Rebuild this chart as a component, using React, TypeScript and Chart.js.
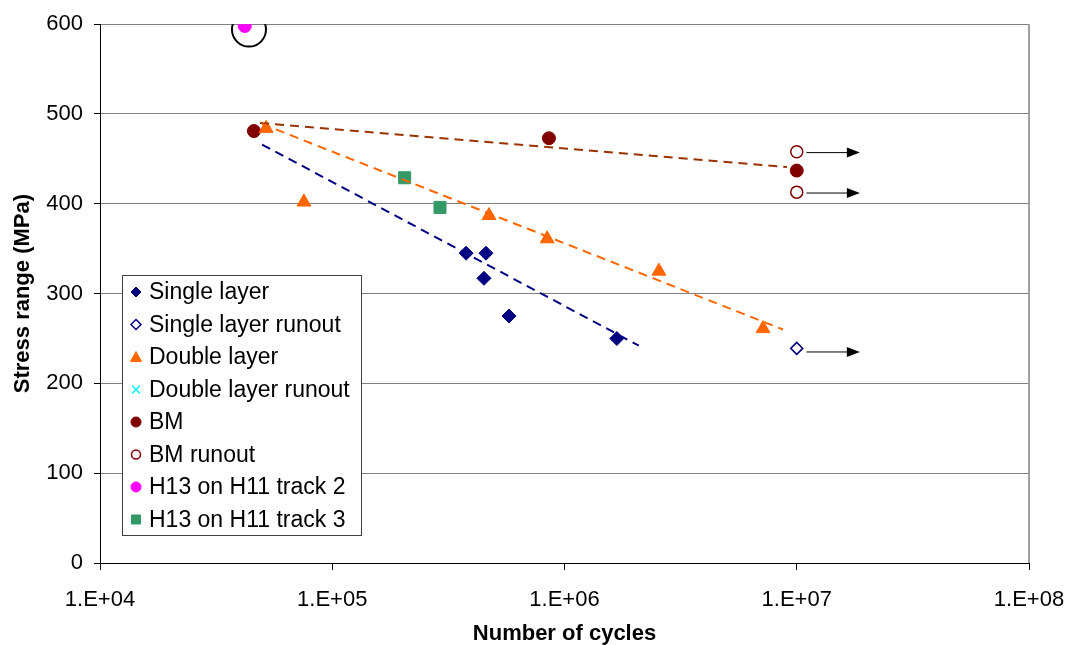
import React, { useEffect, useRef } from 'react';
import { Chart, registerables } from 'chart.js';

Chart.register(...registerables);

// ---- data ----
const xTickValues = [1e4, 1e5, 1e6, 1e7, 1e8];
const yTickValues = [0, 100, 200, 300, 400, 500, 600];

const singleN = [377000, 459000, 450000, 577000, 1680000];
const singleS = [345, 345, 317, 275, 250];
const singleRunoutN = [1.0e7];
const singleRunoutS = [239];
const doubleN = [51900, 75500, 473000, 842000, 2550000, 7160000];
const doubleS = [484, 402, 387, 361, 325, 261];
const doubleRunoutN: number[] = [];
const doubleRunoutS: number[] = [];
const bmN = [46000, 857000, 1.0e7];
const bmS = [481, 473, 437];
const bmRunoutN = [1.0e7, 1.0e7];
const bmRunoutS = [458, 413];
const track2N = [42000];
const track2S = [598];
const track3N = [205000, 291000];
const track3S = [429, 396];

const highlightN = [43800];
const highlightS = [594];

const trendSingleN = [49900, 2090000];
const trendSingleS = [466, 242];
const trendDoubleN = [49800, 8730000];
const trendDoubleS = [489, 260];
const trendBmN = [48900, 9080000];
const trendBmS = [490, 441];

const arrowFromN = [1.1e7, 1.1e7, 1.1e7];
const arrowToN = [1.87e7, 1.87e7, 1.87e7];
const arrowS = [457, 412, 235];

const FONT = "'Liberation Sans', Arial, sans-serif";

const pts = (xs: number[], ys: number[]) => xs.map((x, i) => ({ x, y: ys[i] }));

function drawMarker(ctx: CanvasRenderingContext2D, style: string, x: number, y: number, r: number, fill: string, stroke: string, lw: number) {
  ctx.save();
  ctx.beginPath();
  ctx.lineWidth = lw;
  ctx.fillStyle = fill;
  ctx.strokeStyle = stroke;
  if (style === 'circle') {
    ctx.arc(x, y, r, 0, Math.PI * 2);
    ctx.fill();
    ctx.stroke();
  } else if (style === 'rectRot') {
    ctx.moveTo(x, y - r);
    ctx.lineTo(x + r, y);
    ctx.lineTo(x, y + r);
    ctx.lineTo(x - r, y);
    ctx.closePath();
    ctx.fill();
    ctx.stroke();
  } else if (style === 'triangle') {
    ctx.moveTo(x, y - r);
    ctx.lineTo(x + r, y + r * 0.8);
    ctx.lineTo(x - r, y + r * 0.8);
    ctx.closePath();
    ctx.fill();
    ctx.stroke();
  } else if (style === 'rect') {
    ctx.rect(x - r, y - r, 2 * r, 2 * r);
    ctx.fill();
    ctx.stroke();
  } else if (style === 'crossRot') {
    ctx.moveTo(x - r, y - r);
    ctx.lineTo(x + r, y + r);
    ctx.moveTo(x + r, y - r);
    ctx.lineTo(x - r, y + r);
    ctx.stroke();
  }
  ctx.restore();
}

const overlayPlugin = {
  id: 'overlay',
  afterDatasetsDraw(chart: any) {
    const ctx: CanvasRenderingContext2D = chart.ctx;
    const xs = chart.scales.x;
    const ys = chart.scales.y;
    const area = chart.chartArea;
    // right border of plot area
    ctx.save();
    ctx.strokeStyle = '#a0a0a0';
    ctx.lineWidth = 2;
    ctx.beginPath();
    ctx.moveTo(area.right, area.top);
    ctx.lineTo(area.right, area.bottom);
    ctx.stroke();
    ctx.restore();
    // arrows for runouts
    ctx.save();
    ctx.strokeStyle = '#000';
    ctx.fillStyle = '#000';
    ctx.lineWidth = 1;
    arrowS.forEach((s, i) => {
      const x0 = xs.getPixelForValue(arrowFromN[i]);
      const x1 = xs.getPixelForValue(arrowToN[i]);
      const y = ys.getPixelForValue(s);
      ctx.beginPath();
      ctx.moveTo(x0, y);
      ctx.lineTo(x1 - 12, y);
      ctx.stroke();
      ctx.beginPath();
      ctx.moveTo(x1, y);
      ctx.lineTo(x1 - 13, y - 5);
      ctx.lineTo(x1 - 13, y + 5);
      ctx.closePath();
      ctx.fill();
    });
    ctx.restore();
  },
  afterDraw(chart: any) {
    const ctx: CanvasRenderingContext2D = chart.ctx;
    const items = chart.data.datasets.filter((d: any) => d.legendStyle);
    const left = 122, top = 275, width = 239, rowH = 32.5;
    const height = items.length * rowH;
    ctx.save();
    ctx.fillStyle = '#fff';
    ctx.fillRect(left, top, width, height);
    ctx.strokeStyle = '#404040';
    ctx.lineWidth = 1;
    ctx.strokeRect(left + 0.5, top + 0.5, width, height);
    ctx.font = `23px ${FONT}`;
    ctx.textBaseline = 'middle';
    ctx.textAlign = 'left';
    items.forEach((d: any, i: number) => {
      const cy = top + 17 + i * rowH;
      const st = d.legendStyle;
      drawMarker(ctx, st.shape, left + 14, cy, st.r, st.fill, st.stroke, st.lw);
      ctx.fillStyle = '#000';
      ctx.fillText(d.label, left + 27, cy + 1);
    });
    ctx.restore();
  },
};

export default function App() {
  const ref = useRef<HTMLCanvasElement | null>(null);

  useEffect(() => {
    if (!ref.current) return;
    const chart = new Chart(ref.current, {
      type: 'scatter',
      data: {
        datasets: [
          {
            label: 'highlight',
            data: pts(highlightN, highlightS),
            pointStyle: 'circle',
            pointRadius: 17,
            pointBackgroundColor: 'rgba(0,0,0,0)',
            pointBorderColor: '#000',
            pointBorderWidth: 2,
          },
          {
            label: 'trendSingle',
            data: pts(trendSingleN, trendSingleS),
            showLine: true,
            pointRadius: 0,
            borderColor: '#000080',
            borderWidth: 2,
            borderDash: [9, 6],
          },
          {
            label: 'trendDouble',
            data: pts(trendDoubleN, trendDoubleS),
            showLine: true,
            pointRadius: 0,
            borderColor: '#FF6600',
            borderWidth: 2,
            borderDash: [9, 6],
          },
          {
            label: 'trendBm',
            data: pts(trendBmN, trendBmS),
            showLine: true,
            pointRadius: 0,
            borderColor: '#993300',
            borderWidth: 2,
            borderDash: [9, 6],
          },
          {
            label: 'Single layer',
            data: pts(singleN, singleS),
            pointStyle: 'rectRot',
            pointRadius: 7,
            pointBackgroundColor: '#000080',
            pointBorderColor: '#000080',
            pointBorderWidth: 1,
            legendStyle: { shape: 'rectRot', r: 5, fill: '#000080', stroke: '#000080', lw: 1 },
          },
          {
            label: 'Single layer runout',
            data: pts(singleRunoutN, singleRunoutS),
            pointStyle: 'rectRot',
            pointRadius: 6,
            pointBackgroundColor: '#ffffff',
            pointBorderColor: '#000080',
            pointBorderWidth: 1.5,
            legendStyle: { shape: 'rectRot', r: 5, fill: '#ffffff', stroke: '#000080', lw: 1.5 },
          },
          {
            label: 'Double layer',
            data: pts(doubleN, doubleS),
            pointStyle: 'triangle',
            pointRadius: 8,
            pointBackgroundColor: '#FF6600',
            pointBorderColor: '#FF6600',
            pointBorderWidth: 1,
            legendStyle: { shape: 'triangle', r: 5.5, fill: '#FF6600', stroke: '#FF6600', lw: 1 },
          },
          {
            label: 'Double layer runout',
            data: pts(doubleRunoutN, doubleRunoutS),
            pointStyle: 'crossRot',
            pointRadius: 6,
            pointBorderColor: '#00FFFF',
            legendStyle: { shape: 'crossRot', r: 4, fill: '#00FFFF', stroke: '#00FFFF', lw: 1.5 },
          },
          {
            label: 'BM',
            data: pts(bmN, bmS),
            pointStyle: 'circle',
            pointRadius: 6.5,
            pointBackgroundColor: '#800000',
            pointBorderColor: '#800000',
            pointBorderWidth: 1,
            legendStyle: { shape: 'circle', r: 5, fill: '#800000', stroke: '#800000', lw: 1 },
          },
          {
            label: 'BM runout',
            data: pts(bmRunoutN, bmRunoutS),
            pointStyle: 'circle',
            pointRadius: 6,
            pointBackgroundColor: '#ffffff',
            pointBorderColor: '#800000',
            pointBorderWidth: 1.5,
            legendStyle: { shape: 'circle', r: 4.5, fill: '#ffffff', stroke: '#800000', lw: 1.5 },
          },
          {
            label: 'H13 on H11 track 2',
            data: pts(track2N, track2S),
            pointStyle: 'circle',
            pointRadius: 6.5,
            pointBackgroundColor: '#FF00FF',
            pointBorderColor: '#FF00FF',
            pointBorderWidth: 1,
            legendStyle: { shape: 'circle', r: 5, fill: '#FF00FF', stroke: '#FF00FF', lw: 1 },
          },
          {
            label: 'H13 on H11 track 3',
            data: pts(track3N, track3S),
            pointStyle: 'rect',
            pointRadius: 8.5,
            pointBackgroundColor: '#339966',
            pointBorderColor: '#339966',
            pointBorderWidth: 1,
            legendStyle: { shape: 'rect', r: 4.5, fill: '#339966', stroke: '#339966', lw: 1 },
          },
        ] as any,
      },
      options: {
        animation: false,
        responsive: true,
        maintainAspectRatio: false,
        layout: { padding: { left: 0, top: 24, right: 38, bottom: 0 } },
        plugins: {
          legend: { display: false },
          tooltip: { enabled: false },
        },
        scales: {
          x: {
            type: 'logarithmic',
            min: 1e4,
            max: 1e8,
            afterBuildTicks: (scale: any) => {
              scale.ticks = xTickValues.map((v) => ({ value: v }));
            },
            afterFit: (scale: any) => {
              scale.height = 82;
              scale.paddingLeft = 0;
              scale.paddingRight = 0;
            },
            ticks: {
              autoSkip: false,
              maxRotation: 0,
              color: '#000',
              font: { family: FONT, size: 22 },
              padding: 17,
              callback: (v: any) => {
                const e = Math.round(Math.log10(Number(v)));
                return '1.E+' + String(e).padStart(2, '0');
              },
            },
            grid: {
              display: true,
              drawOnChartArea: false,
              drawTicks: true,
              tickLength: 7,
              color: '#000',
              tickColor: '#000',
            },
            border: { display: true, color: '#000', width: 1 },
            title: {
              display: true,
              text: 'Number of cycles',
              color: '#000',
              font: { family: FONT, size: 22, weight: 'bold' },
              padding: { top: 0, bottom: -2 },
            },
          },
          y: {
            type: 'linear',
            min: 0,
            max: 600,
            afterBuildTicks: (scale: any) => {
              scale.ticks = yTickValues.map((v) => ({ value: v }));
            },
            afterFit: (scale: any) => {
              scale.width = 100;
            },
            ticks: {
              color: '#000',
              font: { family: FONT, size: 22 },
              padding: 11,
            },
            grid: {
              color: '#808080',
              lineWidth: 1,
              tickLength: 6,
              tickColor: '#000',
            },
            border: { display: true, color: '#000', width: 1 },
            title: {
              display: true,
              text: 'Stress range (MPa)',
              color: '#000',
              font: { family: FONT, size: 22, weight: 'bold' },
              padding: { top: 10, bottom: 0 },
            },
          },
        },
      } as any,
      plugins: [overlayPlugin],
    });
    return () => chart.destroy();
  }, []);

  return (
    <div style={{ position: 'fixed', left: 0, top: 0, width: 1067, height: 645, background: '#fff' }}>
      <canvas ref={ref} />
    </div>
  );
}
